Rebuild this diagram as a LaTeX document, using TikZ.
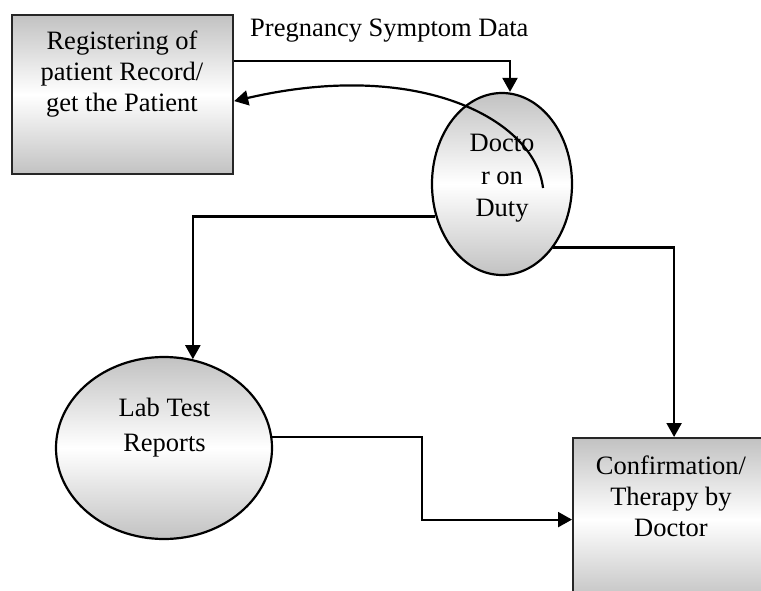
\documentclass[tikz,border=0pt]{standalone}
\usepackage{fontspec}
\setmainfont{Liberation Serif}
\usetikzlibrary{arrows.meta,shapes.geometric,calc}
\tikzset{
  shade3/.style={shading=axis, top color=black!24, bottom color=black!24, middle color=white, shading angle=0},
  procbox/.style={draw=black!85, line width=2.2pt, rectangle, shade3, inner sep=0pt},
  procell/.style={draw=black, line width=2.2pt, ellipse, shade3, inner sep=0pt},
  lbl/.style={font=\fontsize{26.5}{31}\selectfont, align=center, inner sep=0pt},
  arr/.style={line width=2.2pt, -{Triangle[length=14pt,width=15pt]}},
}
\begin{document}
\begin{tikzpicture}[x=1pt,y=1pt]
\useasboundingbox (0,0) rectangle (761,-591);
\clip (0,0) rectangle (761,-591);
% nodes
\node[procbox, minimum width=221pt, minimum height=159pt, anchor=north west] (reg) at (11,-14) {};
\node[lbl] (regt) at (122,-74.5) {Registering of\\patient Record/\\get the Patient};
\node[procell, minimum width=140pt, minimum height=182pt] (doc) at (502,-184) {};
\node[lbl, font=\fontsize{26.5}{32.5}\selectfont] (doct) at (502,-178.5) {Docto\\r on\\Duty};
\node[procell, minimum width=216pt, minimum height=182pt] (lab) at (164,-448) {};
\node[lbl, font=\fontsize{26.5}{35}\selectfont] (labt) at (164.5,-428) {Lab Test\\Reports};
\node[procbox, minimum width=202pt, minimum height=163pt, anchor=north west] (conf) at (572,-437) {};
\node[lbl] (conft) at (671,-496) {Confirmation/\\Therapy by\\Doctor};
\node[lbl, anchor=base west] (preg) at (250,-37) {Pregnancy Symptom Data};
% connectors
\coordinate (cs) at ([shift={(41,-4)}]doc.center);
\coordinate (mid) at (422,-480);
\draw[arr] ([yshift=33.5]reg.east) -| ([xshift=8]doc.north);
\draw[arr] (cs) .. controls ($(cs)+(-8,68)$) and (420,-58) .. ([yshift=-6.5]reg.east);
\draw[arr] (doc.206) -| (lab.72);
\draw[arr] (doc.309.4) -| (conf.north);
\draw[arr] (lab.6) -| (mid) |- (conf.west);
\end{tikzpicture}
\end{document}
